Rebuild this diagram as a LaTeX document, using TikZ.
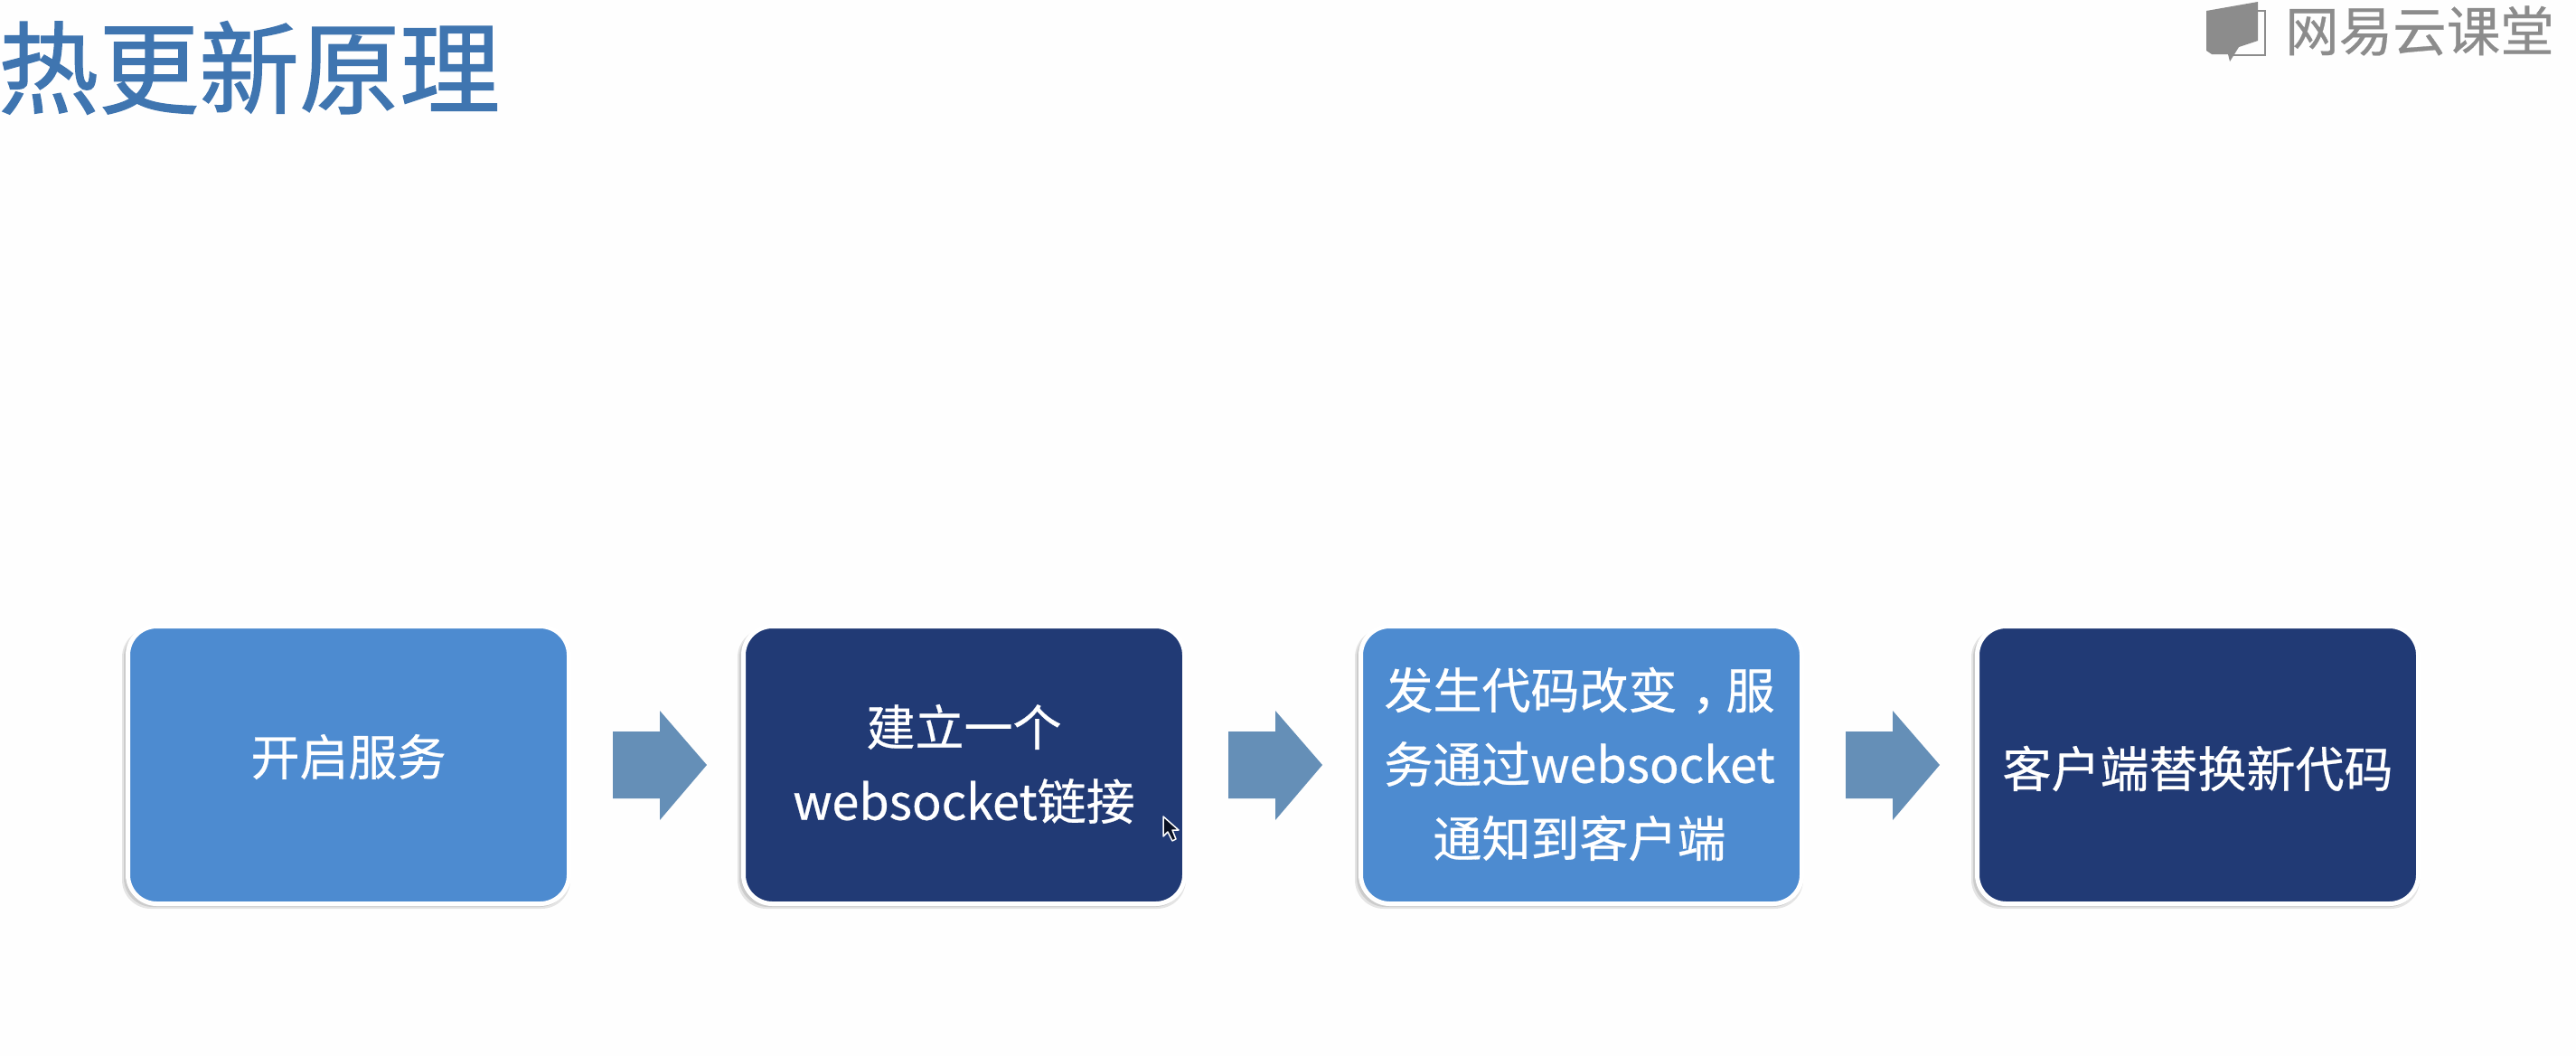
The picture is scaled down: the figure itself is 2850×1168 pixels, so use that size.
\documentclass[tikz,border=0pt]{standalone}
\usepackage{fontspec}
\setmainfont{Noto Sans CJK SC}
\newfontfamily\boldish[FakeBold=1.2]{Noto Sans CJK SC}
\newfontfamily\boldishlight[FakeBold=0.5]{Noto Sans CJK SC}
\usetikzlibrary{calc}
\definecolor{pagebg}{HTML}{FEFEFE}
\definecolor{lightblue}{HTML}{4D8BD0}
\definecolor{darkblue}{HTML}{213A75}
\definecolor{arrowblue}{HTML}{658FB7}
\definecolor{titleblue}{HTML}{3F75B0}
\definecolor{logogray}{HTML}{8C8C8C}
\tikzset{
  x=1pt,y=-1pt,
  flowbox/.style={rounded corners=32pt,minimum width=488pt,minimum height=307pt,inner sep=0pt,
    draw=white,line width=5pt,anchor=north west},
  lightbox/.style={flowbox,fill=lightblue},
  darkbox/.style={flowbox,fill=darkblue},
  boxtext/.style={inner sep=0pt,text=white,align=center,
    font=\boldishlight\fontsize{54pt}{82pt}\selectfont},
  softshadow/.style={fill=black,fill opacity=0.10,draw=none,rounded corners=32pt},
  blockarrow/.style={fill=arrowblue,draw=none},
}
\begin{document}
\begin{tikzpicture}
\useasboundingbox (0,0) rectangle (2850,1168);
\fill[pagebg] (0,0) rectangle (2850,1168);
% title
\node[anchor=west,inner sep=0pt,text=titleblue,font=\boldish\fontsize{111pt}{120pt}\selectfont] (title) at (-2,75) {热更新原理};
% logo
\fill[logogray] (2441,12) -- (2498,2) -- (2498,45) -- (2477,52) -- (2467,68) -- (2465,60) -- (2447,60) -- (2441,56) -- cycle;
\draw[logogray,line width=2.5pt] (2498,12) -- (2506,12) -- (2506,61) -- (2470,61);
\node[anchor=west,inner sep=0pt,text=logogray,font=\boldishlight\fontsize{59.5pt}{60pt}\selectfont] (logo) at (2528,34) {网易云课堂};
% shadows
\foreach \bx in {139,820,1503,2185}{
  \foreach \g in {0,2,4}{
    \fill[softshadow] (\bx-\g,695) rectangle (\bx+488+\g,1001+\g);
  }
}
% boxes
\node[lightbox] (b1) at (139,690) {};
\node[darkbox]  (b2) at (820,690) {};
\node[lightbox] (b3) at (1503,690) {};
\node[darkbox]  (b4) at (2185,690) {};
% box texts
\node[boxtext] (t1) at ($(b1.center)+(0,-9)$) {开启服务};
\node[boxtext] (t2) at ($(b2.center)+(0,-1)$) {建立一个\\websocket链接};
\node[boxtext] (t3) at ($(b3.center)+(-2,-1)$) {发生代码改变\hspace{.3em}，\hspace{-.3em}服\\务通过websocket\\通知到客户端};
\node[boxtext] (t4) at ($(b4.center)+(0,4)$) {客户端替换新代码};
% arrows, each starting a fixed gap to the right of its box
\foreach \s/\n in {b1/a1,b2/a2,b3/a3}{
  \coordinate (\n) at ($(\s.east)+(46,0)$);
  \fill[blockarrow] (\n) ++(0,-37) -- ++(52,0) -- ++(0,-23) -- ++(52,60) -- ++(-52,61) -- ++(0,-24) -- ++(-52,0) -- cycle;
}
% cursor
\draw[white,fill=darkblue!30!black,line width=1.5pt,line join=round] (1287,903) -- (1287,925) -- (1292,920) -- (1297,930) -- (1301,928) -- (1297,918) -- (1304,918) -- cycle;
\end{tikzpicture}
\end{document}
